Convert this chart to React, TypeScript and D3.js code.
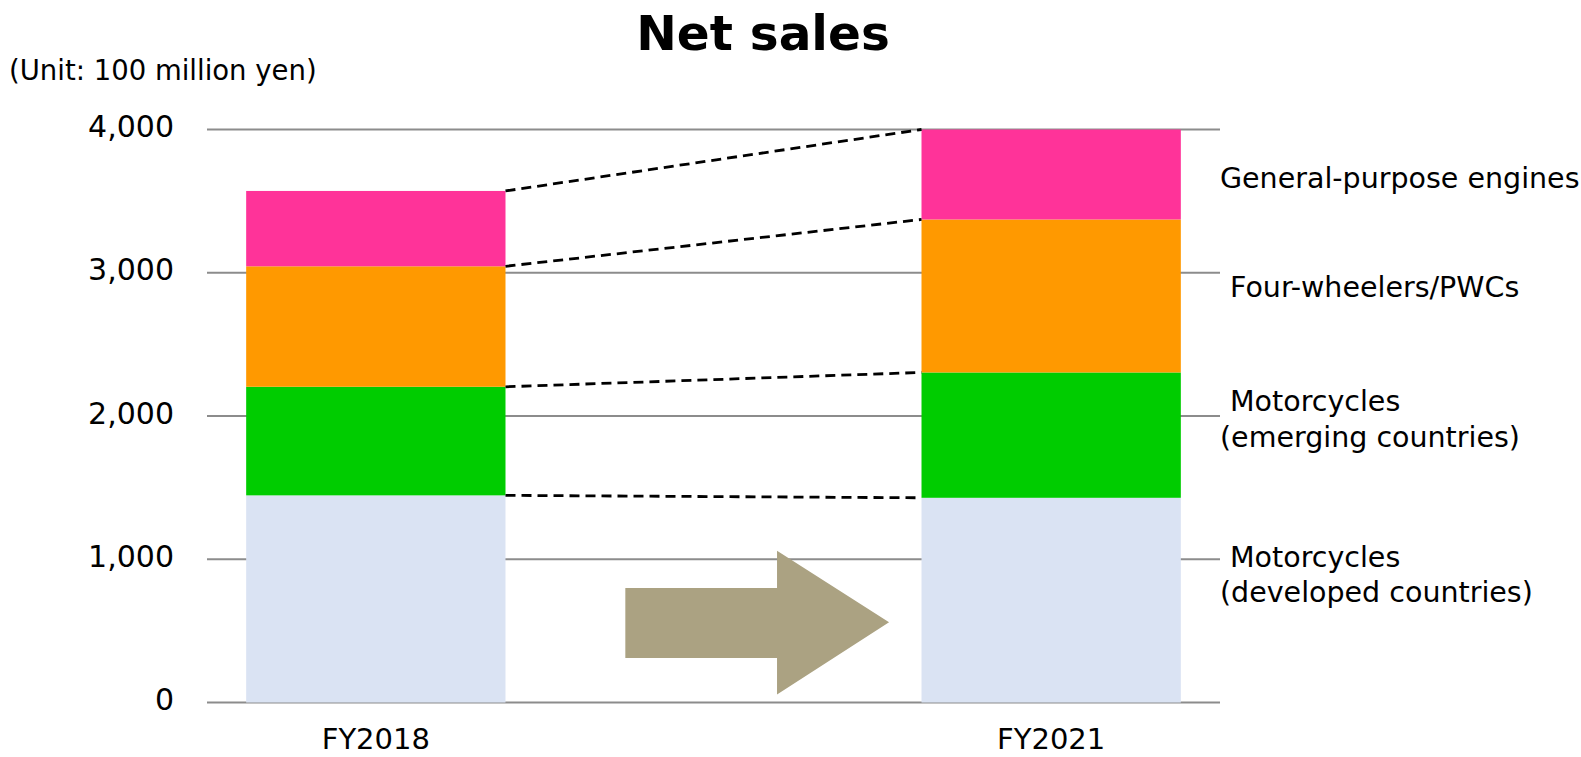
import React from "react";
import * as d3 from "d3";

const categories = ["FY2018", "FY2021"];
const seriesNames = [
  "Motorcycles\n(developed countries)",
  "Motorcycles\n(emerging countries)",
  "Four-wheelers/PWCs",
  "General-purpose engines",
];
const developed = [1446, 1429];
const emerging = [758, 875];
const fourWheelers = [841, 1068];
const engines = [526, 628];
const seriesColors = ["#DAE3F3", "#00CC00", "#FF9900", "#FF3399"];
const yTicks = [0, 1000, 2000, 3000, 4000];

const W = 1581;
const H = 757;
const FONT = "'DejaVu Sans', Verdana, sans-serif";

export default function App() {
  const slots = [categories[0], "gap", categories[1]];
  const x = d3
    .scaleBand<string>()
    .domain(slots)
    .range([207, 1220])
    .paddingInner(0.232)
    .paddingOuter(0.116);
  const y = d3.scaleLinear().domain([0, 4000]).range([702.5, 129.5]);
  const bw = x.bandwidth();

  const rows = categories.map((c, i) => ({
    cat: c,
    s0: developed[i],
    s1: emerging[i],
    s2: fourWheelers[i],
    s3: engines[i],
  }));
  const keys = ["s0", "s1", "s2", "s3"];
  const stacked = d3.stack<any>().keys(keys)(rows);

  const connectors = stacked.map((layer) => ({
    x1: (x(categories[0]) as number) + bw,
    y1: y(layer[0][1]),
    x2: x(categories[1]) as number,
    y2: y(layer[1][1]),
  }));

  const gx = x("gap") as number;
  const ax0 = gx + 0.16 * bw;
  const ax1 = gx + 0.745 * bw;
  const ax2 = gx + 1.177 * bw;
  const arrowPts = [
    [ax0, y(800)],
    [ax1, y(800)],
    [ax1, y(1060)],
    [ax2, y(560)],
    [ax1, y(55)],
    [ax1, y(310)],
    [ax0, y(310)],
  ]
    .map((p) => p.join(","))
    .join(" ");

  const labelPos = [
    { lines: ["Motorcycles", "(developed countries)"], xs: [1230, 1220], ys: [567, 602] },
    { lines: ["Motorcycles", "(emerging countries)"], xs: [1230, 1220], ys: [410.5, 446.5] },
    { lines: ["Four-wheelers/PWCs"], xs: [1230], ys: [297] },
    { lines: ["General-purpose engines"], xs: [1220], ys: [187.5] },
  ];

  return (
    <svg
      width={W}
      height={H}
      style={{ position: "absolute", left: 0, top: 0, background: "#fff" }}
      fontFamily={FONT}
    >
      <text x={763} y={50} textAnchor="middle" fontSize={48.5} fontWeight="bold" fill="#000">
        Net sales
      </text>
      <text x={9} y={80} fontSize={27.5} fill="#000">
        (Unit: 100 million yen)
      </text>

      {yTicks.map((t) => (
        <g key={t}>
          <line x1={207} x2={1220} y1={y(t)} y2={y(t)} stroke="#8c8c8c" strokeWidth={2.2} />
          <text x={174} y={y(t) + 7.5} textAnchor="end" fontSize={30} fill="#000">
            {d3.format(",")(t)}
          </text>
        </g>
      ))}

      {stacked.map((layer, li) =>
        layer.map((d, i) => (
          <rect
            key={li + "-" + i}
            x={x(categories[i]) as number}
            width={bw}
            y={y(d[1])}
            height={y(d[0]) - y(d[1])}
            fill={seriesColors[li]}
          />
        ))
      )}

      {connectors.map((c, i) => (
        <line
          key={i}
          x1={c.x1}
          y1={c.y1}
          x2={c.x2}
          y2={c.y2}
          stroke="#000"
          strokeWidth={2.8}
          strokeDasharray="10,6"
        />
      ))}

      <polygon points={arrowPts} fill="#ABA282" />

      {categories.map((c) => (
        <text
          key={c}
          x={(x(c) as number) + bw / 2}
          y={749}
          textAnchor="middle"
          fontSize={29}
          fill="#000"
        >
          {c}
        </text>
      ))}

      {labelPos.map((lp, i) =>
        lp.lines.map((ln, j) => (
          <text key={i + "-" + j} x={lp.xs[j]} y={lp.ys[j]} fontSize={28.5} fill="#000" data-series={seriesNames[i]}>
            {ln}
          </text>
        ))
      )}
    </svg>
  );
}
